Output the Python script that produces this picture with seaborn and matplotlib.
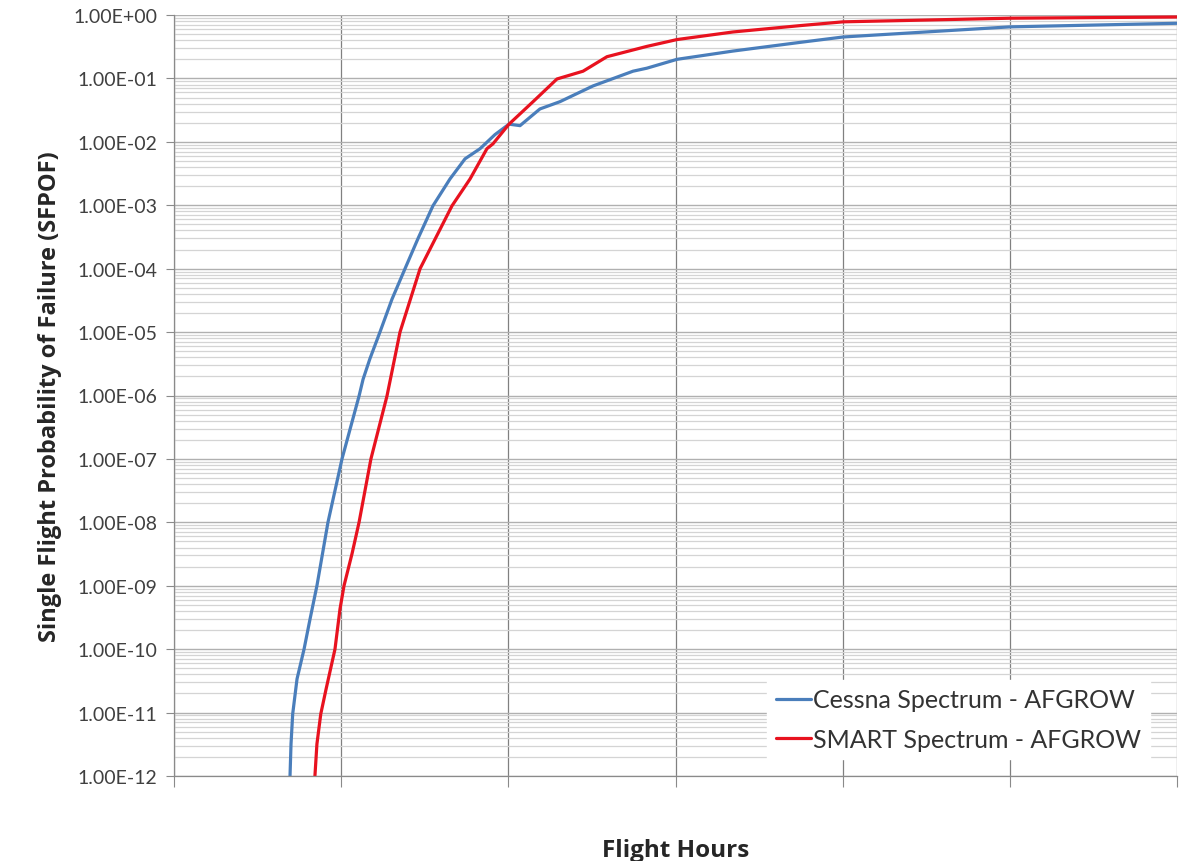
import numpy as np
import pandas as pd
import seaborn as sns
import matplotlib
matplotlib.use("Agg")
import matplotlib.pyplot as plt
from matplotlib.ticker import LogLocator, FixedLocator, NullFormatter, FuncFormatter

# ---- data ----
cessna_hours = [694, 700, 710, 736, 778, 814, 855, 921, 1005, 1107, 1131, 1172,
                1232, 1304, 1382, 1460, 1549, 1651, 1741, 1831, 1920, 2004, 2070,
                2118, 2189, 2309, 2506, 2746, 2829, 3009, 3344, 3745, 4002, 5001, 6000]
cessna_sfpof = [1.0e-12, 3.2e-12, 9.5e-12, 3.4e-11, 1.0e-10, 3.0e-10, 1.0e-9, 1.0e-8,
                1.0e-7, 9.8e-7, 1.8e-6, 3.8e-6, 1.0e-5, 3.3e-5, 1.0e-4, 3.0e-4, 9.8e-4,
                2.6e-3, 5.4e-3, 7.8e-3, 1.3e-2, 1.9e-2, 1.8e-2, 2.3e-2, 3.3e-2, 4.3e-2,
                7.6e-2, 0.13, 0.145, 0.20, 0.27, 0.37, 0.45, 0.65, 0.74]

smart_hours = [843, 855, 878, 909, 963, 993, 1017, 1065, 1107, 1178, 1274, 1352,
               1472, 1663, 1771, 1872, 1908, 2004, 2148, 2291, 2447, 2590, 2829,
               3009, 3344, 3745, 4002, 5001, 6000]
smart_sfpof = [1.0e-12, 3.2e-12, 9.5e-12, 2.3e-11, 1.0e-10, 4.3e-10, 1.0e-9, 3.2e-9,
               1.0e-8, 1.0e-7, 9.8e-7, 1.0e-5, 1.0e-4, 9.8e-4, 2.6e-3, 7.8e-3, 9.3e-3,
               1.9e-2, 4.3e-2, 9.8e-2, 0.13, 0.22, 0.32, 0.41, 0.54, 0.68, 0.78, 0.89, 0.93]

series_names = ["Cessna Spectrum - AFGROW", "SMART Spectrum - AFGROW"]
series_colors = ["#4A7EBB", "#E8121F"]
x_grid = [0, 1000, 2000, 3000, 4000, 5000, 6000]
y_decades = list(range(-12, 1))

df = pd.concat([
    pd.DataFrame({"hours": cessna_hours, "sfpof": cessna_sfpof, "series": series_names[0]}),
    pd.DataFrame({"hours": smart_hours, "sfpof": smart_sfpof, "series": series_names[1]}),
], ignore_index=True)

sns.set_style("white")
plt.rcParams['font.family'] = ['Lato', 'DejaVu Sans']

fig = plt.figure(figsize=(11.82, 8.62), dpi=100)
ax = fig.add_axes([174/1182, 1 - 777/862, (1177 - 174)/1182, (777 - 16)/862])

sns.lineplot(data=df, x="hours", y="sfpof", hue="series", palette=series_colors,
             hue_order=series_names, sort=False, estimator=None, linewidth=2.3, ax=ax)

ax.set_yscale("log")
ax.set_ylim(1e-12, 1)
ax.set_xlim(x_grid[0], x_grid[-1])

ax.yaxis.set_major_locator(FixedLocator([10.0**d for d in y_decades]))
ax.yaxis.set_minor_locator(LogLocator(base=10, subs=np.arange(2, 10), numticks=100))
ax.yaxis.set_minor_formatter(NullFormatter())
ax.yaxis.set_major_formatter(FuncFormatter(lambda v, p: f"{v:.2E}"))

ax.xaxis.set_major_locator(FixedLocator(x_grid))
ax.set_xticklabels([])

ax.grid(True, which="major", axis="y", color="#b0b0b0", linewidth=1.0)
ax.grid(True, which="minor", axis="y", color="#d4d4d4", linewidth=0.9)
ax.grid(True, which="major", axis="x", color="#808080", linewidth=0.9)
ax.set_axisbelow(True)

for s in ["top", "right"]:
    ax.spines[s].set_visible(False)
for s in ["left", "bottom"]:
    ax.spines[s].set_color("#8a8a8a")
    ax.spines[s].set_linewidth(0.9)

ax.tick_params(axis="y", which="major", direction="out", length=6, color="#8a8a8a",
               labelsize=14, labelcolor="#404040", pad=6, left=True)
ax.tick_params(axis="y", which="minor", length=0)
ax.tick_params(axis="x", which="major", direction="out", length=8, color="#8a8a8a", bottom=True)

ax.set_xlabel("Flight Hours", fontsize=17.5, fontweight="bold", color="#262626",
              labelpad=33, family=["Open Sans", "DejaVu Sans"])
ax.set_ylabel("Single Flight Probability of Failure (SFPOF)", fontsize=17,
              fontweight="bold", color="#262626", labelpad=8,
              family=["Open Sans", "DejaVu Sans"])

leg = ax.legend(loc="lower right", bbox_to_anchor=(0.973, 0.022), frameon=True,
                fontsize=18, handlelength=1.4, handletextpad=0.1, borderpad=0.35,
                labelspacing=0.65, fancybox=False, borderaxespad=0)
leg.get_frame().set_facecolor("white")
leg.get_frame().set_edgecolor("white")
leg.get_frame().set_alpha(1)
for t in leg.get_texts():
    t.set_color("#333333")

fig.savefig("out.png", dpi=100)
